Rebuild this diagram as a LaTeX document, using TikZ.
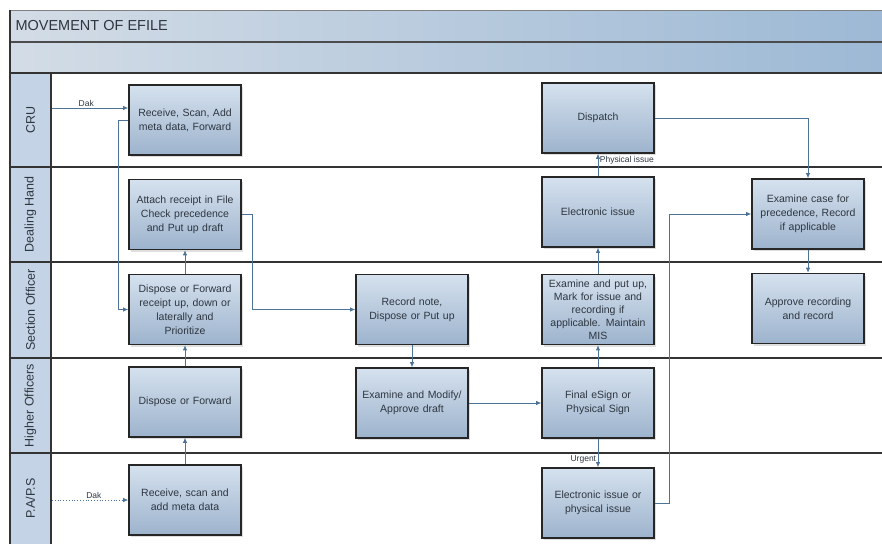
\documentclass[tikz,border=0pt]{standalone}
\usepackage{fontspec}
\setmainfont{Liberation Sans}
\usetikzlibrary{arrows.meta,shadows}
\definecolor{boxlight}{HTML}{D5E1EE}
\definecolor{boxdark}{HTML}{9DB3CD}
\definecolor{flowblue}{HTML}{4D7399}
\definecolor{lanefill}{HTML}{C4D4E6}
\definecolor{barlight}{HTML}{D3DCE6}
\definecolor{barblue}{HTML}{9DB9D5}
\definecolor{inkgray}{HTML}{2E3640}
\tikzset{
  task/.style={rectangle,draw=black!85,line width=1.6pt,top color=boxlight,bottom color=boxdark,
    minimum width=112pt,minimum height=70pt,text width=106pt,align=center,inner sep=2pt,
    font=\fontsize{10.5}{14}\selectfont,text=inkgray,
    drop shadow={opacity=.25,shadow xshift=2pt,shadow yshift=-2pt}},
  flow/.style={draw=flowblue,line width=.8pt,-{Latex[length=5pt,width=4.5pt]}},
  lane/.style={draw=black!80,line width=2pt},
  tag/.style={font=\fontsize{8.5}{10}\selectfont,text=inkgray,inner sep=1.5pt}
}
\begin{document}
\begin{tikzpicture}[x=1pt,y=-1pt]
\useasboundingbox (0,0) rectangle (882,544);
\shade[left color=barlight,right color=barblue] (10,10) rectangle (882,42);
\shade[left color=barlight,right color=barblue] (10,42) rectangle (882,73);
\draw[black!50,line width=1pt] (10,10) -- (882,10);
\draw[black!70,line width=1.2pt] (10,42) -- (882,42);
\node[anchor=west,font=\fontsize{14.5}{16}\selectfont,text=inkgray] (title) at (12,26) {MOVEMENT OF EFILE};
\fill[lanefill] (10,73) rectangle (51,544);
\foreach \y in {73,167,262,358,453}{\draw[lane] (10,\y) -- (882,\y);}
\draw[lane] (51,73) -- (51,544); \draw[lane] (10,10) -- (10,544);
\foreach \name/\y/\txt in {cru/120/CRU,dh/214.5/Dealing Hand,so/310/Section Officer,ho/405.5/Higher Officers,pa/498.5/{P.A/P.S}}{
  \node[rotate=90,font=\fontsize{12.5}{14}\selectfont,text=inkgray] (lane-\name) at (30.5,\y) {\txt};}

\node[task] (recv) at (185,120) {Receive, Scan, Add\\meta data, Forward};
\node[task] (attach) at (185,214.5) {Attach receipt in File\\Check precedence\\and Put up draft};
\node[task] (dispSO) at (185,309.5) {Dispose or Forward\\receipt up, down or\\laterally and\\Prioritize};
\node[task] (dispHO) at (185,402) {Dispose or Forward};
\node[task] (recvPA) at (185,500) {Receive, scan and\\add meta data};
\node[task] (note) at (412,309.5) {Record note,\\Dispose or Put up};
\node[task] (modify) at (412,403) {Examine and Modify/\\Approve draft};
\node[task,font=\fontsize{10.5}{13}\selectfont] (exam) at (598,309.5) {Examine and put up,\\Mark for issue and\\recording if\\applicable. Maintain\\MIS};
\node[task] (sign) at (598,403) {Final eSign or\\Physical Sign};
\node[task] (dispatch) at (598,118) {Dispatch};
\node[task] (eissue) at (598,212) {Electronic issue};
\node[task] (epissue) at (598,503) {Electronic issue or\\physical issue};
\node[task] (case) at (808,214) {Examine case for\\precedence, Record\\if applicable};
\node[task] (approve) at (808,308.5) {Approve recording\\and record};

\coordinate (dakC) at (52,108); \coordinate (dakP) at (52,500);
\draw[flow] (dakC) -- (dakC -| recv.west) node[tag,above,pos=.45]{Dak};
\draw[flow,dotted] (dakP) -- (recvPA.west) node[tag,above,pos=.55]{Dak};
\draw[flow] (recv.west) -- ++(-10,0) |- (dispSO.west);
\draw[flow] (attach.east) -- ++(11,0) |- (note.west);
\draw[flow] (dispSO.north) -- (attach.south);
\draw[flow] (dispHO.north) -- (dispSO.south);
\draw[flow] (recvPA.north) -- (dispHO.south);
\draw[flow] (note.south) -- (modify.north);
\draw[flow] (modify.east) -- (sign.west);
\draw[flow] (sign.north) -- (exam.south);
\draw[flow] (exam.north) -- (eissue.south);
\draw[flow] (eissue.north) -- (dispatch.south) node[tag,right,pos=.7]{Physical issue};
\draw[flow] (sign.south) -- (epissue.north) node[tag,left,pos=.72]{Urgent};
\draw[flow] (dispatch.east) -| (case.north);
\draw[flow] (epissue.east) -- ++(15,0) |- (case.west);
\draw[flow] (case.south) -- (approve.north);
\end{tikzpicture}
\end{document}
